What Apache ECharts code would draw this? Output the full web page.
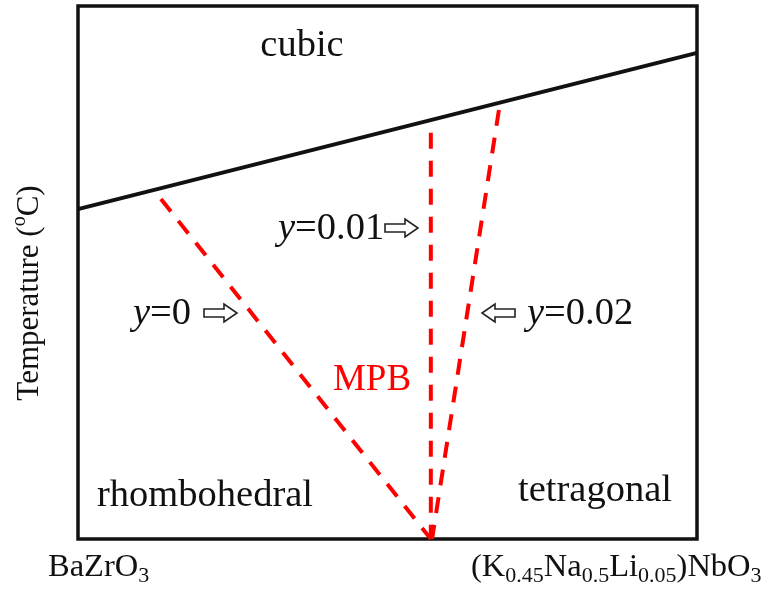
<!DOCTYPE html>
<html>
<head>
<meta charset="utf-8">
<script src="https://cdn.jsdelivr.net/npm/echarts@6/dist/echarts.min.js"></script>
<style>
  html, body { margin: 0; padding: 0; background: #fff; }
  #chart { width: 769px; height: 589px; }
</style>
</head>
<body>
<div id="chart"></div>
<script>
// Composition runs from BaZrO3 (x = 0) to (K,Na,Li)NbO3 (x = 1); temperature is normalised 0..1.
const tcX = [0, 1];
const tcY = [0.619, 0.912];

// Morphotropic phase boundaries for y = 0, 0.01 and 0.02, listed top to bottom
const mpbY0X = [0.134, 0.570];
const mpbY0Y = [0.638, 0];
const mpbY001X = [0.570, 0.570];
const mpbY001Y = [0.762, 0];
const mpbY002X = [0.680, 0.572];
const mpbY002Y = [0.805, 0];

const pairs = (xs, ys) => xs.map((x, i) => [x, ys[i]]);

const serif = "'Liberation Serif', 'Times New Roman', serif";
const chart = echarts.init(document.getElementById('chart'));

const hidden = {
  axisLine: { show: false }, axisTick: { show: false },
  axisLabel: { show: false }, splitLine: { show: false }
};

const dashed = {
  color: '#ff0000', width: 4, type: [16, 12], cap: 'butt'
};

function hollowArrow(x, y, dir) {
  // white block arrow, 33 px long, pointing right (dir = 1) or left (dir = -1)
  const pts = [[0, -4], [20, -4], [20, -9], [33, 0], [20, 9], [20, 4], [0, 4]]
    .map(p => [x + dir * p[0], y + p[1]]);
  return {
    type: 'polygon', shape: { points: pts },
    style: { fill: '#fff', stroke: '#222', lineWidth: 1.6 }
  };
}

const big = { fontFamily: serif, fontSize: 38.5, fill: '#111' };
const italic = { i: { fontStyle: 'italic', fontFamily: serif, fontSize: 38.5 } };

chart.setOption({
  animation: false,
  grid: {
    left: 78, right: 72, top: 6, bottom: 50,
    show: true, borderColor: '#111', borderWidth: 3.5, backgroundColor: '#fff'
  },
  xAxis: Object.assign({ type: 'value', min: 0, max: 1 }, hidden),
  yAxis: Object.assign({ type: 'value', min: 0, max: 1 }, hidden),
  series: [
    { type: 'line', data: pairs(tcX, tcY), symbol: 'none',
      lineStyle: { color: '#111', width: 4 } },
    { type: 'line', data: pairs(mpbY0X, mpbY0Y), symbol: 'none', lineStyle: dashed },
    { type: 'line', data: pairs(mpbY001X, mpbY001Y), symbol: 'none', lineStyle: dashed },
    { type: 'line', data: pairs(mpbY002X, mpbY002Y), symbol: 'none', lineStyle: dashed }
  ],
  graphic: [
    { type: 'text', x: 302, y: 46,
      style: Object.assign({ text: 'cubic', align: 'center', verticalAlign: 'middle' }, big) },
    { type: 'text', x: 205, y: 496,
      style: Object.assign({ text: 'rhombohedral', align: 'center', verticalAlign: 'middle' }, big) },
    { type: 'text', x: 595, y: 491,
      style: Object.assign({ text: 'tetragonal', align: 'center', verticalAlign: 'middle' }, big) },
    { type: 'text', x: 372, y: 380,
      style: { text: 'MPB', align: 'center', verticalAlign: 'middle',
               fontFamily: serif, fontSize: 37, fill: '#ff0000' } },
    { type: 'text', x: 278, y: 229,
      style: Object.assign({ text: '{i|y}=0.01', align: 'left', verticalAlign: 'middle', rich: italic }, big) },
    hollowArrow(385, 228, 1),
    { type: 'text', x: 133, y: 314,
      style: Object.assign({ text: '{i|y}=0', align: 'left', verticalAlign: 'middle', rich: italic }, big) },
    hollowArrow(204, 313, 1),
    { type: 'text', x: 527, y: 314,
      style: Object.assign({ text: '{i|y}=0.02', align: 'left', verticalAlign: 'middle', rich: italic }, big) },
    hollowArrow(515, 313, -1),
    // axis titles
    { type: 'text', x: 30, y: 293, rotation: Math.PI / 2,
      style: { text: '{m|Temperature (}{s|o}{m|C)}', align: 'center', verticalAlign: 'middle',
               fill: '#111',
               rich: {
                 m: { fontFamily: serif, fontSize: 31, lineHeight: 40 },
                 s: { fontFamily: serif, fontSize: 20, lineHeight: 22, verticalAlign: 'top' }
               } } },
    { type: 'text', x: 48, y: 567,
      style: { text: '{m|BaZrO}{s|3}', align: 'left', verticalAlign: 'middle', fill: '#111',
               rich: {
                 m: { fontFamily: serif, fontSize: 32.5, lineHeight: 40 },
                 s: { fontFamily: serif, fontSize: 22, lineHeight: 18, verticalAlign: 'bottom' }
               } } },
    { type: 'text', x: 471, y: 567,
      style: { text: '{m|(K}{s|0.45}{m|Na}{s|0.5}{m|Li}{s|0.05}{m|)NbO}{s|3}',
               align: 'left', verticalAlign: 'middle', fill: '#111',
               rich: {
                 m: { fontFamily: serif, fontSize: 32.5, lineHeight: 40 },
                 s: { fontFamily: serif, fontSize: 22, lineHeight: 18, verticalAlign: 'bottom' }
               } } }
  ]
});
</script>
</body>
</html>
